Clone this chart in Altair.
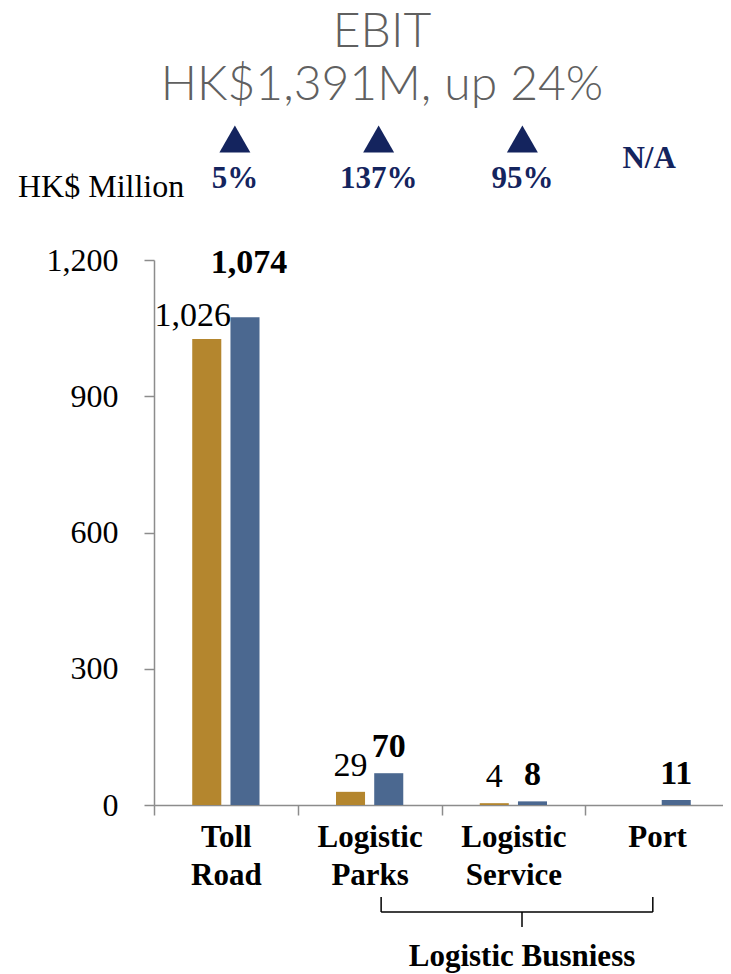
import altair as alt
import pandas as pd

# ---------------- data ----------------
categories = ["Toll Road", "Logistic Parks", "Logistic Service", "Port"]
series_names = ["Prior year", "Current year"]
prior_ebit = [1026, 29, 4, None]
current_ebit = [1074, 70, 8, 11]
growth_labels = ["5%", "137%", "95%", "N/A"]
growth_up = [True, True, True, False]
y_ticks = [0, 300, 600, 900, 1200]
title_lines = ["EBIT", "HK$1,391M, up 24%"]
unit_label = "HK$ Million"
group_label = "Logistic Busniess"
group_span = ["Logistic Parks", "Port"]
group_mid = ["Logistic Service"]

rows = []
for c, p, q in zip(categories, prior_ebit, current_ebit):
    if p is not None:
        rows.append({"category": c, "series": series_names[0], "value": p, "label": f"{p:,}"})
    rows.append({"category": c, "series": series_names[1], "value": q, "label": f"{q:,}"})
bars_df = pd.DataFrame(rows)
ann_df = pd.DataFrame({"category": categories, "growth": growth_labels, "up": growth_up})
span_df = pd.DataFrame({"start": [group_span[0]], "end": [group_span[1]]})
mid_df = pd.DataFrame({"category": group_mid, "text": [group_label]})

# ---------------- styling ----------------
W, H = 575, 545
SERIF = "Liberation Serif"
NAVY = "#14245E"
AX = "#8C8C8C"

x_scale = alt.Scale(domain=categories, paddingInner=0, paddingOuter=0)
y_scale = alt.Scale(domain=[0, 1200], nice=False)
off_scale = alt.Scale(domain=series_names, paddingInner=0.24, paddingOuter=1)
color_scale = alt.Scale(domain=series_names, range=["#B4862E", "#4B6890"])

x_axis = alt.Axis(
    title=None, labelAngle=0, tickBand="extent", tickSize=10, tickColor=AX,
    domainColor=AX, domainWidth=1.5, tickWidth=1.5,
    labelExpr="split(datum.label, ' ')", labelFont=SERIF, labelFontSize=31,
    labelFontWeight="bold", labelColor="black", labelLineHeight=38, labelPadding=7,
)
X = alt.X("category:N", scale=x_scale, sort=categories, axis=x_axis)
XO = alt.XOffset("series:N", scale=off_scale, sort=series_names)

bars = alt.Chart(bars_df).mark_bar().encode(
    x=X,
    xOffset=XO,
    y=alt.Y("value:Q", scale=y_scale,
            axis=alt.Axis(title=None, values=y_ticks, format=",d", grid=False,
                          tickSize=10, tickColor=AX, tickWidth=1.5,
                          domainColor=AX, domainWidth=1.5,
                          labelFont=SERIF, labelFontSize=32, labelColor="black",
                          labelPadding=26)),
    color=alt.Color("series:N", scale=color_scale, legend=None),
)

def value_labels(series, weight, dx, dy, toll):
    cond = f"datum.series == '{series}' && " + ("datum.category == 'Toll Road'" if toll else "datum.category != 'Toll Road'")
    return alt.Chart(bars_df).transform_filter(cond).mark_text(
        font=SERIF, fontSize=34, fontWeight=weight, color="black",
        baseline="alphabetic", dx=dx, dy=dy,
    ).encode(x=X, xOffset=XO, y=alt.Y("value:Q", scale=y_scale), text="label:N")

lab_prior = value_labels(series_names[0], "normal", 0, -16, False)
lab_prior_toll = value_labels(series_names[0], "normal", -14, -13, True)
lab_cur = value_labels(series_names[1], "bold", 0, -16, False)
lab_cur_toll = value_labels(series_names[1], "bold", 4, -44, True)

# growth markers sit a little right of each band centre (band centre + 9px)
tri = alt.Chart(ann_df).transform_filter("datum.up").mark_point(
    shape="triangle-up", filled=True, size=961, color=NAVY, opacity=1,
).encode(x=X, xOffset=alt.XOffsetValue(W / 8 + 9), y=alt.value(-121))
pct = alt.Chart(ann_df).transform_filter("datum.up").mark_text(
    font=SERIF, fontSize=31, fontWeight="bold", color=NAVY, baseline="alphabetic", dx=9,
).encode(x=X, y=alt.value(-72), text="growth:N")
na = alt.Chart(ann_df).transform_filter("!datum.up").mark_text(
    font=SERIF, fontSize=31, fontWeight="bold", color=NAVY, baseline="alphabetic", dx=-8,
).encode(x=X, y=alt.value(-92), text="growth:N")

def title_line(txt, ypos):
    return alt.Chart(pd.DataFrame({"t": [txt]})).mark_text(
        font="Lato", fontSize=48, fontWeight=300, color="#606060", baseline="alphabetic",
    ).encode(x=alt.value(228), y=alt.value(ypos), text="t:N")

t1 = title_line(title_lines[0], -213)
t2 = title_line(title_lines[1], -160)

unit = alt.Chart(pd.DataFrame({"t": [unit_label]})).mark_text(
    font=SERIF, fontSize=32, color="black", align="left", baseline="alphabetic",
).encode(x=alt.value(-136), y=alt.value(-63), text="t:N")

RULE = dict(color="black", strokeWidth=1.5)
span = alt.Chart(span_df).mark_rule(**RULE).encode(
    x=alt.X("start:N", scale=x_scale, sort=categories, axis=x_axis, bandPosition=0.58),
    x2=alt.X2("end:N", bandPosition=0.47),
    y=alt.value(652),
)
end_left = alt.Chart(span_df).mark_rule(**RULE).encode(
    x=alt.X("start:N", scale=x_scale, sort=categories, axis=x_axis, bandPosition=0.58),
    y=alt.value(637), y2=alt.value(652),
)
end_right = alt.Chart(span_df).mark_rule(**RULE).encode(
    x=alt.X("end:N", scale=x_scale, sort=categories, axis=x_axis, bandPosition=0.47),
    y=alt.value(637), y2=alt.value(652),
)
XM = alt.X("category:N", scale=x_scale, sort=categories, axis=x_axis, bandPosition=0.56)
mid = alt.Chart(mid_df).mark_rule(**RULE).encode(
    x=XM, y=alt.value(652), y2=alt.value(667),
)
mid_text = alt.Chart(mid_df).mark_text(
    font=SERIF, fontSize=31, fontWeight="bold", color="black", baseline="alphabetic",
).encode(x=XM, y=alt.value(706), text="text:N")

chart = alt.layer(
    bars, lab_prior, lab_prior_toll, lab_cur, lab_cur_toll,
    tri, pct, na, t1, t2, unit, span, end_left, end_right, mid, mid_text,
).properties(
    width=W, height=H, autosize="none",
    padding={"left": 146, "top": 252, "right": -6, "bottom": 169},
).configure_view(stroke=None)

chart.save("out.html", embed_options={"renderer": "svg", "actions": False})
